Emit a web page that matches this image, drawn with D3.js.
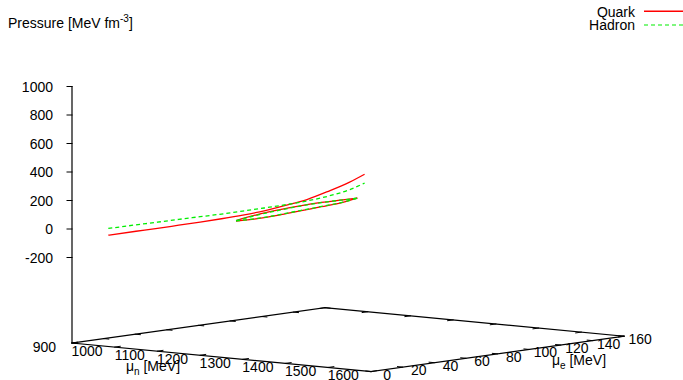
<!DOCTYPE html>
<html>
<head>
<meta charset="utf-8">
<script src="https://cdn.jsdelivr.net/npm/d3@7"></script>
<style>
body { margin: 0; background: #fff; }
text { font-family: "Liberation Sans", Arial, sans-serif; font-size: 14px; fill: #000; }
</style>
</head>
<body>
<div id="chart"></div>
<script>
// long curves, taken along mu_e = 0
var muN      = [985, 1050, 1100, 1150, 1200, 1250, 1300, 1350, 1400, 1450, 1500, 1550, 1585];
var quarkP   = [-19,   27,   62,   98,  134,  172,  212,  256,  308,  364,  436,  515,  580];
var hadronP  = [ 28,   72,  105,  139,  172,  205,  240,  276,  313,  354,  402,  462,  518];
var longMuE  = 0;

// short closed curves (two branches), along mu_e = 20
var loopMuN       = [1210, 1260, 1310, 1360, 1410, 1460, 1494];
var loopMuE       = 20;
var quarkLoopUp   = [117, 173, 220, 263, 301, 333, 355];
var quarkLoopLow  = [113, 144, 183, 228, 271, 316, 355];
var hadronLoopUp  = [116, 170, 217, 261, 300, 333, 355];
var hadronLoopLow = [114, 146, 186, 230, 273, 317, 355];

var muNTicks = [900, 1000, 1100, 1200, 1300, 1400, 1500, 1600];
var muETicks = [0, 20, 40, 60, 80, 100, 120, 140, 160];
var pTicks   = [-200, 0, 200, 400, 600, 800, 1000];

var W = 683, H = 380;
var org = {x: 72, y: 343};          // floor corner (900, 0)
var ex = {x: 299, y: 28.5};         // full mu_n run on screen
var ey = {x: 253, y: -35.3};        // full mu_e run on screen

var xS = d3.scaleLinear().domain([900, 1600]).range([0, 1]);
var yS = d3.scaleLinear().domain([0, 160]).range([0, 1]);
// ticslevel 0.5: zmin sits half the z range above the floor
var zS = d3.scaleLinear().domain([-200, 1000]).range([-85.5, -256.5]);

function proj(n, e, z) {
    var fx = xS(n), fy = yS(e);
    return [org.x + fx * ex.x + fy * ey.x,
            org.y + fx * ex.y + fy * ey.y + (z == null ? 0 : zS(z))];
}

var svg = d3.select("#chart").append("svg")
    .attr("width", W).attr("height", H);

function seg(a, b, w) {
    svg.append("line")
        .attr("x1", a[0]).attr("y1", a[1]).attr("x2", b[0]).attr("y2", b[1])
        .attr("stroke", "#000").attr("stroke-width", w || 1.2)
        .attr("stroke-linecap", "square");
}

// floor box
var c00 = proj(900, 0), c10 = proj(1600, 0), c11 = proj(1600, 160), c01 = proj(900, 160);
seg(c00, c10); seg(c10, c11); seg(c11, c01); seg(c01, c00);

// mu_n tics on front and back edges
muNTicks.forEach(function(t) {
    seg(proj(t, 0), proj(t, 3.5), 1);
    seg(proj(t, 160), proj(t, 156.5), 1);
    var p = proj(t, -17.5);
    svg.append("text").attr("x", p[0]).attr("y", p[1])
        .attr("text-anchor", "middle").attr("dominant-baseline", "central")
        .text(t);
});

// mu_e tics on both side edges
muETicks.forEach(function(t) {
    seg(proj(1600, t), proj(1588, t), 1);
    seg(proj(900, t), proj(912, t), 1);
    var p = proj(1638, t);
    svg.append("text").attr("x", p[0]).attr("y", p[1] + 1.5)
        .attr("text-anchor", "middle").attr("dominant-baseline", "central")
        .text(t);
});

// z axis
var zTop = proj(900, 0, 1000);
seg(c00, zTop);
pTicks.forEach(function(t) {
    var p = proj(900, 0, t);
    seg([p[0] - 5, p[1]], p, 1);
    svg.append("text").attr("x", p[0] - 19).attr("y", p[1])
        .attr("text-anchor", "end").attr("dominant-baseline", "central")
        .text(t);
});

// axis titles
var tn = svg.append("text").attr("x", 153).attr("y", 371).attr("text-anchor", "middle");
tn.append("tspan").text("\u03bc");
tn.append("tspan").attr("font-size", "10px").attr("dy", 4).text("n");
tn.append("tspan").attr("dy", -4).text(" [MeV]");

var te = svg.append("text").attr("x", 579).attr("y", 365).attr("text-anchor", "middle");
te.append("tspan").text("\u03bc");
te.append("tspan").attr("font-size", "10px").attr("dy", 4).text("e");
te.append("tspan").attr("dy", -4).text(" [MeV]");

var tz = svg.append("text").attr("x", 8).attr("y", 28);
tz.append("tspan").text("Pressure [MeV fm");
tz.append("tspan").attr("font-size", "10px").attr("dy", -6).text("-3");
tz.append("tspan").attr("dy", 6).text("]");

// curves
var path = d3.line().curve(d3.curveMonotoneX);
function pts(ns, e, zs) {
    return ns.map(function(n, i) { return proj(n, e, zs[i]); });
}
var quarkColor = "#ff0000", hadronColor = "#00ee00";
function curve(ns, e, zs, color, dashed) {
    svg.append("path").attr("d", path(pts(ns, e, zs)))
        .attr("fill", "none").attr("stroke", color).attr("stroke-width", 1.3)
        .attr("stroke-dasharray", dashed ? "4,3" : null);
}
curve(muN, longMuE, quarkP, quarkColor, false);
curve(loopMuN, loopMuE, quarkLoopUp, quarkColor, false);
curve(loopMuN, loopMuE, quarkLoopLow, quarkColor, false);
curve(muN, longMuE, hadronP, hadronColor, true);
curve(loopMuN, loopMuE, hadronLoopUp, hadronColor, true);
curve(loopMuN, loopMuE, hadronLoopLow, hadronColor, true);

// key
var keys = [{name: "Quark", color: quarkColor, dashed: false},
            {name: "Hadron", color: hadronColor, dashed: true}];
keys.forEach(function(d, i) {
    var y = 11.5 + i * 13.5;
    svg.append("text").attr("x", 635).attr("y", y)
        .attr("text-anchor", "end").attr("dominant-baseline", "central")
        .text(d.name);
    if (d.dashed) {
        svg.append("path").attr("d", "M644," + y + "H683")
            .attr("fill", "none").attr("stroke", d.color).attr("stroke-width", 1.2)
            .attr("stroke-dasharray", "4,3");
    } else {
        svg.append("rect").attr("x", 644).attr("y", Math.floor(y) - 0.5)
            .attr("width", 39).attr("height", 1.5)
            .attr("fill", d.color);
    }
});
</script>
</body>
</html>
